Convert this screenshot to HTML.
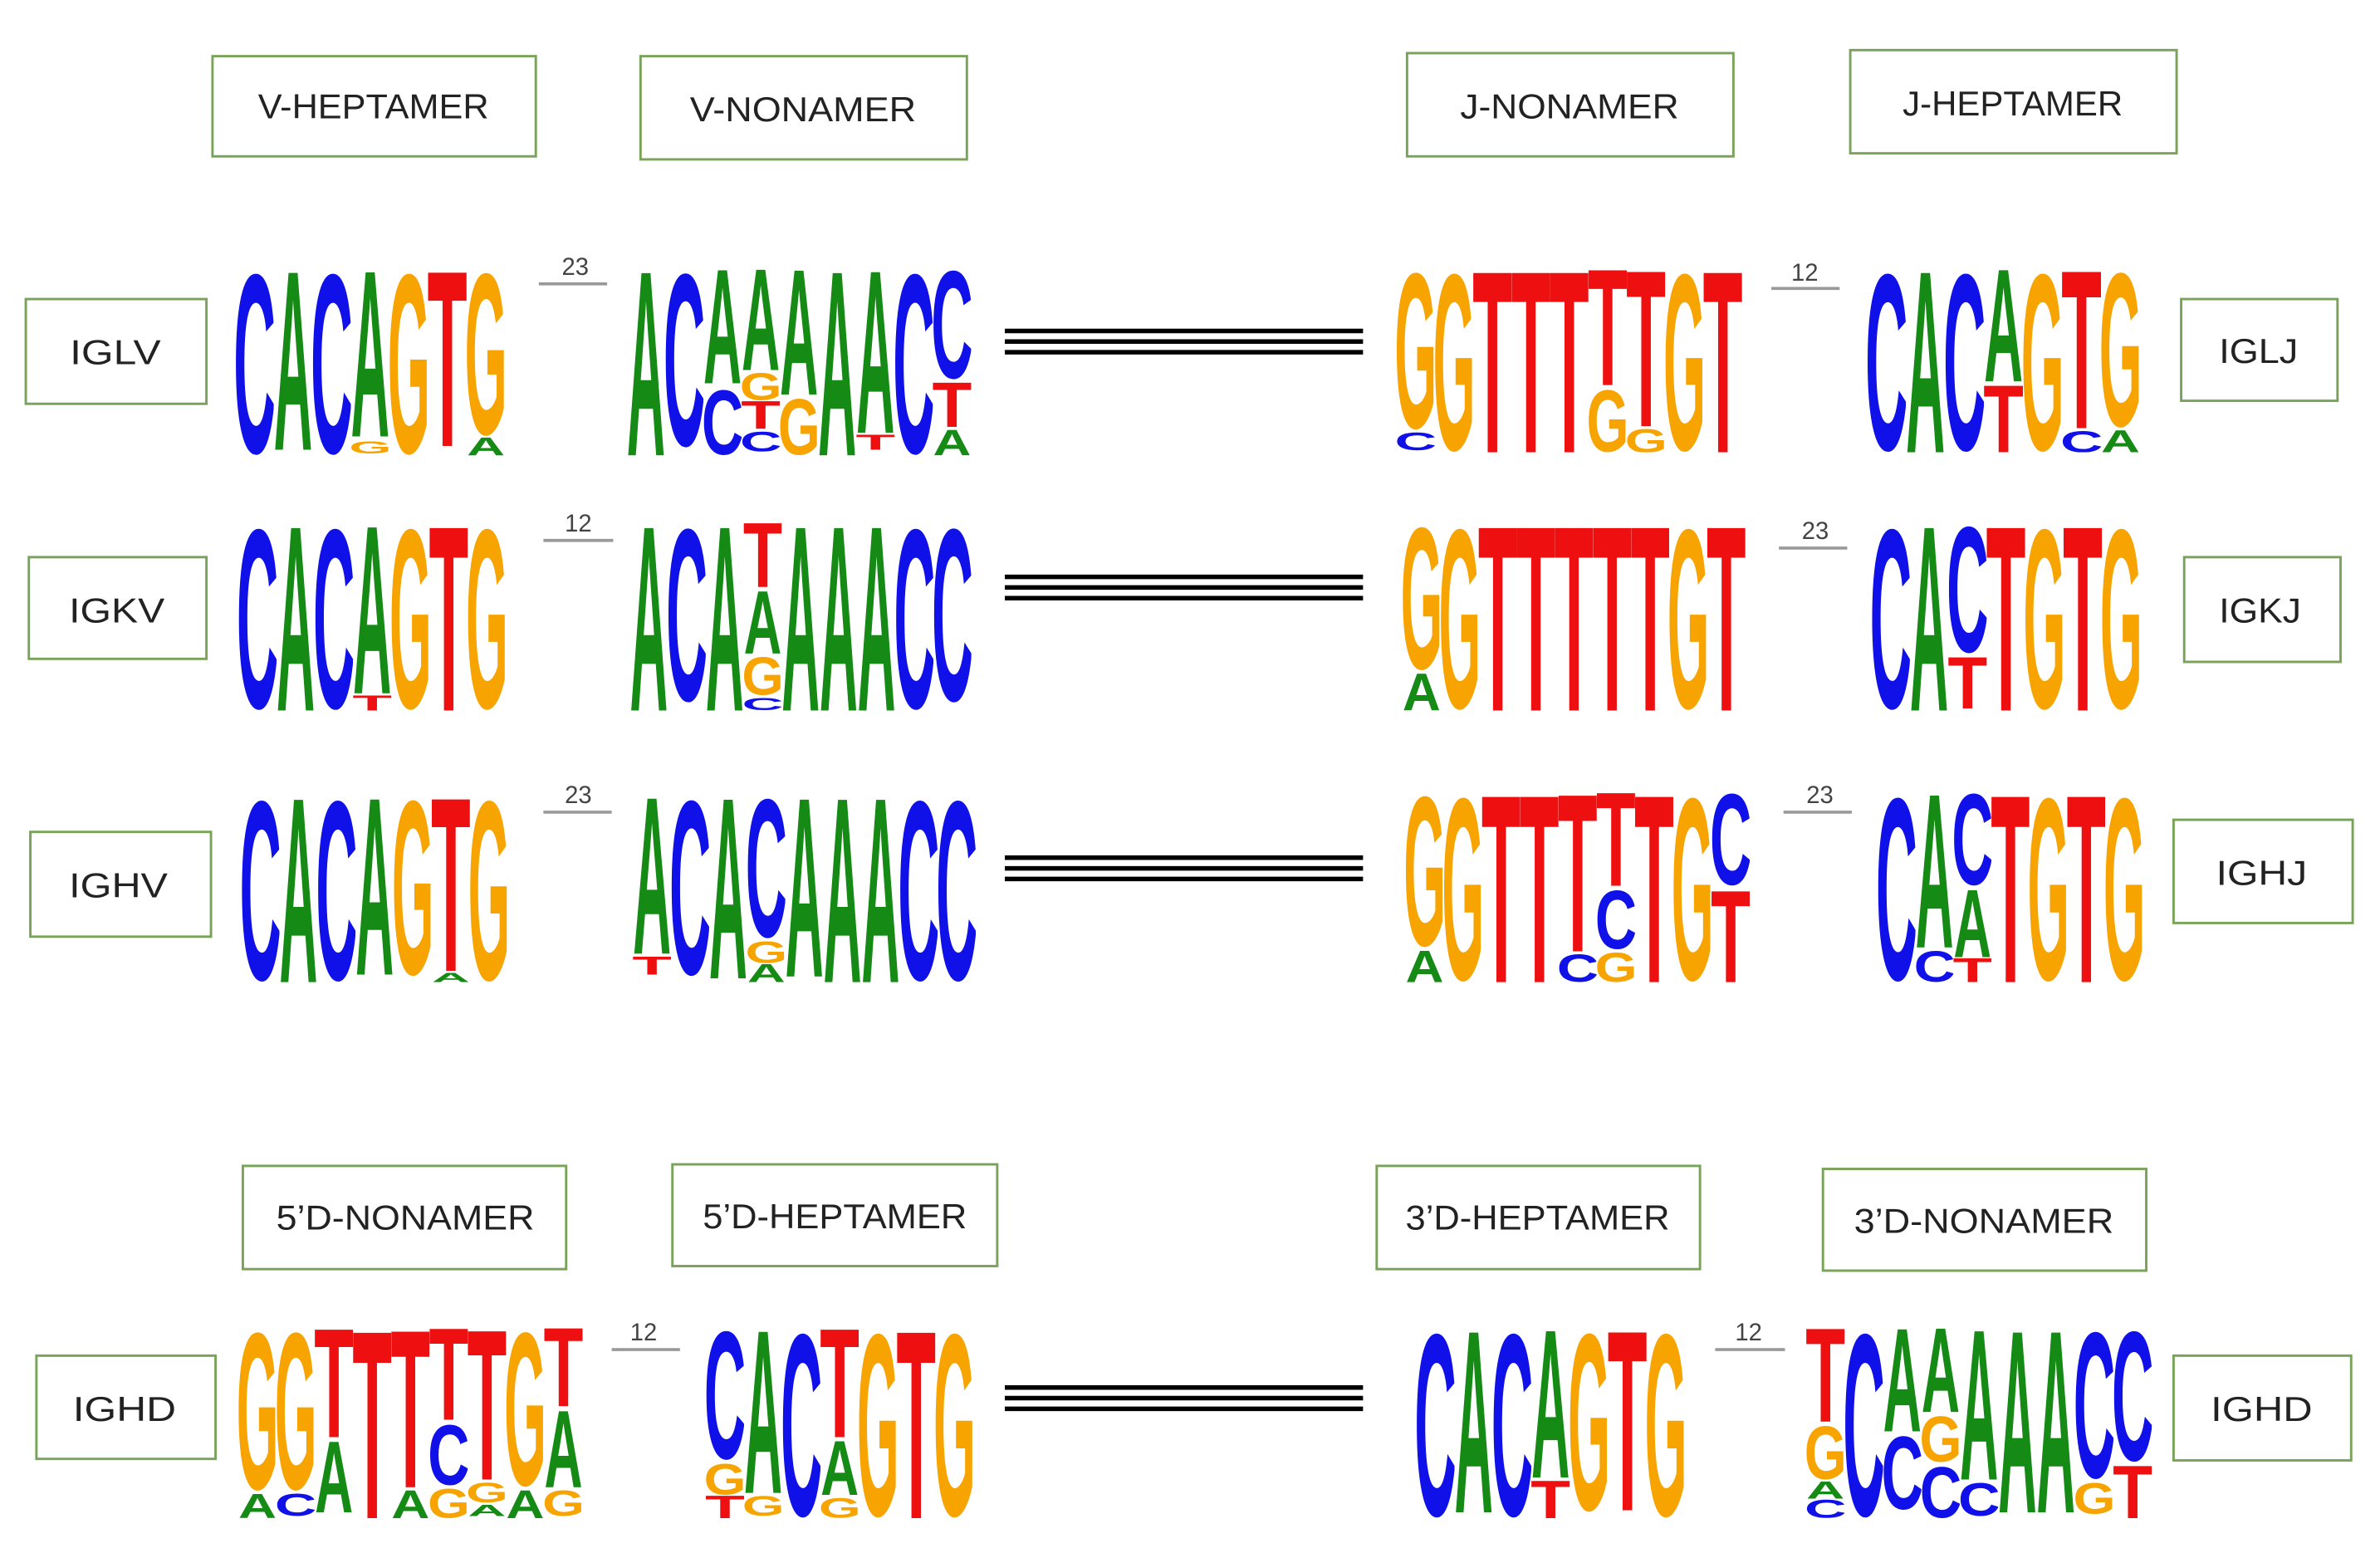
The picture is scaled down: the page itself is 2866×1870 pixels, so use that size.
<!DOCTYPE html>
<html><head><meta charset="utf-8"><style>
html,body{margin:0;padding:0;background:#fff;}
svg{display:block}
.a,.c,.g,.t{font-family:"Liberation Sans",sans-serif;font-weight:bold;font-size:100px}
.a{fill:#158a15}.c{fill:#1010e8}.g{fill:#f7a400}.t{fill:#ee1010}
.lb{font-family:"Liberation Sans",sans-serif;font-size:23px;fill:#222;text-anchor:middle}
.nm{font-family:"Liberation Sans",sans-serif;font-size:16px;fill:#444;text-anchor:middle}
.bx{fill:#fff;stroke:#7aa35a;stroke-width:1.6}
</style></head><body>
<svg width="2866" height="1870" viewBox="0 0 1568 1023" preserveAspectRatio="none">
<rect width="1568" height="1023" fill="#fff"/>
<!-- header boxes -->
<rect class="bx" x="140" y="37" width="213" height="66"/><text class="lb" x="246" y="78" textLength="152" lengthAdjust="spacingAndGlyphs">V-HEPTAMER</text>
<rect class="bx" x="422" y="37" width="215" height="68"/><text class="lb" x="529" y="80" textLength="149" lengthAdjust="spacingAndGlyphs">V-NONAMER</text>
<rect class="bx" x="927" y="35" width="215" height="68"/><text class="lb" x="1034" y="78" textLength="144" lengthAdjust="spacingAndGlyphs">J-NONAMER</text>
<rect class="bx" x="1219" y="33" width="215" height="68"/><text class="lb" x="1326" y="76" textLength="145" lengthAdjust="spacingAndGlyphs">J-HEPTAMER</text>
<rect class="bx" x="160" y="768" width="213" height="68"/><text class="lb" x="267" y="810" textLength="170" lengthAdjust="spacingAndGlyphs">5’D-NONAMER</text>
<rect class="bx" x="443" y="767" width="214" height="67"/><text class="lb" x="550" y="809" textLength="174" lengthAdjust="spacingAndGlyphs">5’D-HEPTAMER</text>
<rect class="bx" x="907" y="768" width="213" height="68"/><text class="lb" x="1013" y="810" textLength="174" lengthAdjust="spacingAndGlyphs">3’D-HEPTAMER</text>
<rect class="bx" x="1201" y="770" width="213" height="67"/><text class="lb" x="1307" y="812" textLength="171" lengthAdjust="spacingAndGlyphs">3’D-NONAMER</text>
<!-- side labels -->
<rect class="bx" x="17" y="197" width="119" height="69"/><text class="lb" x="76" y="240" textLength="60" lengthAdjust="spacingAndGlyphs">IGLV</text>
<rect class="bx" x="19" y="367" width="117" height="67"/><text class="lb" x="77" y="410" textLength="63" lengthAdjust="spacingAndGlyphs">IGKV</text>
<rect class="bx" x="20" y="548" width="119" height="69"/><text class="lb" x="78" y="591" textLength="65" lengthAdjust="spacingAndGlyphs">IGHV</text>
<rect class="bx" x="24" y="893" width="118" height="68"/><text class="lb" x="82" y="936" textLength="68" lengthAdjust="spacingAndGlyphs">IGHD</text>
<rect class="bx" x="1437" y="197" width="103" height="67"/><text class="lb" x="1488" y="239" textLength="52" lengthAdjust="spacingAndGlyphs">IGLJ</text>
<rect class="bx" x="1439" y="367" width="103" height="69"/><text class="lb" x="1489" y="410" textLength="54" lengthAdjust="spacingAndGlyphs">IGKJ</text>
<rect class="bx" x="1432" y="540" width="118" height="68"/><text class="lb" x="1490" y="583" textLength="60" lengthAdjust="spacingAndGlyphs">IGHJ</text>
<rect class="bx" x="1432" y="893" width="117" height="69"/><text class="lb" x="1490" y="936" textLength="67" lengthAdjust="spacingAndGlyphs">IGHD</text>
<!-- spacers -->
<g stroke="#999" stroke-width="2">
<line x1="355" y1="187" x2="400" y2="187"/><line x1="1167" y1="190" x2="1212" y2="190"/>
<line x1="358" y1="356" x2="404" y2="356"/><line x1="1172" y1="361" x2="1217" y2="361"/>
<line x1="358" y1="535" x2="403" y2="535"/><line x1="1175" y1="535" x2="1220" y2="535"/>
<line x1="403" y1="889" x2="448" y2="889"/><line x1="1130" y1="889" x2="1176" y2="889"/>
</g>
<text class="nm" x="379" y="181">23</text><text class="nm" x="1189" y="185">12</text>
<text class="nm" x="381" y="350">12</text><text class="nm" x="1196" y="355">23</text>
<text class="nm" x="381" y="529">23</text><text class="nm" x="1199" y="529">23</text>
<text class="nm" x="424" y="883">12</text><text class="nm" x="1152" y="883">12</text>
<g stroke="#000" stroke-width="3">
<line x1="662" y1="218" x2="898" y2="218"/><line x1="662" y1="225" x2="898" y2="225"/><line x1="662" y1="232" x2="898" y2="232"/>
<line x1="662" y1="380" x2="898" y2="380"/><line x1="662" y1="387" x2="898" y2="387"/><line x1="662" y1="394" x2="898" y2="394"/>
<line x1="662" y1="565" x2="898" y2="565"/><line x1="662" y1="572" x2="898" y2="572"/><line x1="662" y1="579" x2="898" y2="579"/>
<line x1="662" y1="914" x2="898" y2="914"/><line x1="662" y1="921" x2="898" y2="921"/><line x1="662" y1="928" x2="898" y2="928"/>
</g>

<!-- ROW 1 L1 CACAGTG -->
<svg x="155" y="175" width="25.4" height="125" viewBox="0 0 100 100" preserveAspectRatio="none"><svg y="0" width="100" height="100" viewBox="3 -73 66 74.2" preserveAspectRatio="none"><text class="c">C</text></svg></svg>
<svg x="180.4" y="175" width="25.4" height="125" viewBox="0 0 100 100" preserveAspectRatio="none"><svg y="0" width="100" height="97" viewBox="0 -71.6 72.2 71.6" preserveAspectRatio="none"><text class="a">A</text></svg></svg>
<svg x="205.8" y="175" width="25.4" height="125" viewBox="0 0 100 100" preserveAspectRatio="none"><svg y="0" width="100" height="100" viewBox="3 -73 66 74.2" preserveAspectRatio="none"><text class="c">C</text></svg></svg>
<svg x="231.2" y="175" width="25.4" height="125" viewBox="0 0 100 100" preserveAspectRatio="none"><svg y="0" width="100" height="90" viewBox="0 -71.6 72.2 71.6" preserveAspectRatio="none"><text class="a">A</text></svg><svg y="92" width="100" height="7" viewBox="3.5 -73 70.5 74.2" preserveAspectRatio="none"><text class="g">G</text></svg></svg>
<svg x="256.6" y="175" width="25.4" height="125" viewBox="0 0 100 100" preserveAspectRatio="none"><svg y="0" width="100" height="100" viewBox="3.5 -73 70.5 74.2" preserveAspectRatio="none"><text class="g">G</text></svg></svg>
<svg x="282" y="175" width="25.4" height="125" viewBox="0 0 100 100" preserveAspectRatio="none"><svg y="0" width="100" height="95" viewBox="1.5 -71.6 58 71.6" preserveAspectRatio="none"><text class="t">T</text></svg></svg>
<svg x="307.4" y="175" width="25.4" height="125" viewBox="0 0 100 100" preserveAspectRatio="none"><svg y="0" width="100" height="90" viewBox="3.5 -73 70.5 74.2" preserveAspectRatio="none"><text class="g">G</text></svg><svg y="90" width="100" height="10" viewBox="0 -71.6 72.2 71.6" preserveAspectRatio="none"><text class="a">A</text></svg></svg>

<!-- ROW 1 L2 ACAAAAACC -->
<svg x="413" y="175" width="25.2" height="125" viewBox="0 0 100 100" preserveAspectRatio="none"><svg y="0" width="100" height="100" viewBox="0 -71.6 72.2 71.6" preserveAspectRatio="none"><text class="a">A</text></svg></svg>
<svg x="438.2" y="175" width="25.2" height="125" viewBox="0 0 100 100" preserveAspectRatio="none"><svg y="0" width="100" height="96" viewBox="3 -73 66 74.2" preserveAspectRatio="none"><text class="c">C</text></svg></svg>
<svg x="463.4" y="175" width="25.2" height="125" viewBox="0 0 100 100" preserveAspectRatio="none"><svg y="0" width="100" height="62" viewBox="0 -71.6 72.2 71.6" preserveAspectRatio="none"><text class="a">A</text></svg><svg y="64" width="100" height="36" viewBox="3 -73 66 74.2" preserveAspectRatio="none"><text class="c">C</text></svg></svg>
<svg x="488.6" y="175" width="25.2" height="125" viewBox="0 0 100 100" preserveAspectRatio="none"><svg y="0" width="100" height="55" viewBox="0 -71.6 72.2 71.6" preserveAspectRatio="none"><text class="a">A</text></svg><svg y="56" width="100" height="15" viewBox="3.5 -73 70.5 74.2" preserveAspectRatio="none"><text class="g">G</text></svg><svg y="71" width="100" height="15" viewBox="1.5 -71.6 58 71.6" preserveAspectRatio="none"><text class="t">T</text></svg><svg y="87" width="100" height="11" viewBox="3 -73 66 74.2" preserveAspectRatio="none"><text class="c">C</text></svg></svg>
<svg x="513.8" y="175" width="25.2" height="125" viewBox="0 0 100 100" preserveAspectRatio="none"><svg y="0" width="100" height="68" viewBox="0 -71.6 72.2 71.6" preserveAspectRatio="none"><text class="a">A</text></svg><svg y="69" width="100" height="31" viewBox="3.5 -73 70.5 74.2" preserveAspectRatio="none"><text class="g">G</text></svg></svg>
<svg x="539" y="175" width="25.2" height="125" viewBox="0 0 100 100" preserveAspectRatio="none"><svg y="0" width="100" height="100" viewBox="0 -71.6 72.2 71.6" preserveAspectRatio="none"><text class="a">A</text></svg></svg>
<svg x="564.2" y="175" width="25.2" height="125" viewBox="0 0 100 100" preserveAspectRatio="none"><svg y="0" width="100" height="88" viewBox="0 -71.6 72.2 71.6" preserveAspectRatio="none"><text class="a">A</text></svg><svg y="89" width="100" height="8" viewBox="1.5 -71.6 58 71.6" preserveAspectRatio="none"><text class="t">T</text></svg></svg>
<svg x="589.4" y="175" width="25.2" height="125" viewBox="0 0 100 100" preserveAspectRatio="none"><svg y="0" width="100" height="100" viewBox="3 -73 66 74.2" preserveAspectRatio="none"><text class="c">C</text></svg></svg>
<svg x="614.6" y="175" width="25.2" height="125" viewBox="0 0 100 100" preserveAspectRatio="none"><svg y="0" width="100" height="60" viewBox="3 -73 66 74.2" preserveAspectRatio="none"><text class="c">C</text></svg><svg y="61" width="100" height="24" viewBox="1.5 -71.6 58 71.6" preserveAspectRatio="none"><text class="t">T</text></svg><svg y="86" width="100" height="14" viewBox="0 -71.6 72.2 71.6" preserveAspectRatio="none"><text class="a">A</text></svg></svg>

<!-- ROW 1 L3 GGTTTTTGT -->
<svg x="920" y="175" width="25.3" height="123" viewBox="0 0 100 100" preserveAspectRatio="none"><svg y="0" width="100" height="88" viewBox="3.5 -73 70.5 74.2" preserveAspectRatio="none"><text class="g">G</text></svg><svg y="89" width="100" height="10" viewBox="3 -73 66 74.2" preserveAspectRatio="none"><text class="c">C</text></svg></svg>
<svg x="945.3" y="175" width="25.3" height="123" viewBox="0 0 100 100" preserveAspectRatio="none"><svg y="0" width="100" height="100" viewBox="3.5 -73 70.5 74.2" preserveAspectRatio="none"><text class="g">G</text></svg></svg>
<svg x="970.6" y="175" width="25.3" height="123" viewBox="0 0 100 100" preserveAspectRatio="none"><svg y="0" width="100" height="100" viewBox="1.5 -71.6 58 71.6" preserveAspectRatio="none"><text class="t">T</text></svg></svg>
<svg x="995.9" y="175" width="25.3" height="123" viewBox="0 0 100 100" preserveAspectRatio="none"><svg y="0" width="100" height="100" viewBox="1.5 -71.6 58 71.6" preserveAspectRatio="none"><text class="t">T</text></svg></svg>
<svg x="1021.2" y="175" width="25.3" height="123" viewBox="0 0 100 100" preserveAspectRatio="none"><svg y="0" width="100" height="100" viewBox="1.5 -71.6 58 71.6" preserveAspectRatio="none"><text class="t">T</text></svg></svg>
<svg x="1046.5" y="175" width="25.3" height="123" viewBox="0 0 100 100" preserveAspectRatio="none"><svg y="0" width="100" height="64" viewBox="1.5 -71.6 58 71.6" preserveAspectRatio="none"><text class="t">T</text></svg><svg y="65" width="100" height="35" viewBox="3.5 -73 70.5 74.2" preserveAspectRatio="none"><text class="g">G</text></svg></svg>
<svg x="1071.8" y="175" width="25.3" height="123" viewBox="0 0 100 100" preserveAspectRatio="none"><svg y="0" width="100" height="86" viewBox="1.5 -71.6 58 71.6" preserveAspectRatio="none"><text class="t">T</text></svg><svg y="87" width="100" height="13" viewBox="3.5 -73 70.5 74.2" preserveAspectRatio="none"><text class="g">G</text></svg></svg>
<svg x="1097.1" y="175" width="25.3" height="123" viewBox="0 0 100 100" preserveAspectRatio="none"><svg y="0" width="100" height="100" viewBox="3.5 -73 70.5 74.2" preserveAspectRatio="none"><text class="g">G</text></svg></svg>
<svg x="1122.4" y="175" width="25.3" height="123" viewBox="0 0 100 100" preserveAspectRatio="none"><svg y="0" width="100" height="100" viewBox="1.5 -71.6 58 71.6" preserveAspectRatio="none"><text class="t">T</text></svg></svg>

<!-- ROW 1 L4 CACAGTG -->
<svg x="1230" y="175" width="25.7" height="123" viewBox="0 0 100 100" preserveAspectRatio="none"><svg y="0" width="100" height="100" viewBox="3 -73 66 74.2" preserveAspectRatio="none"><text class="c">C</text></svg></svg>
<svg x="1255.7" y="175" width="25.7" height="123" viewBox="0 0 100 100" preserveAspectRatio="none"><svg y="0" width="100" height="100" viewBox="0 -71.6 72.2 71.6" preserveAspectRatio="none"><text class="a">A</text></svg></svg>
<svg x="1281.4" y="175" width="25.7" height="123" viewBox="0 0 100 100" preserveAspectRatio="none"><svg y="0" width="100" height="100" viewBox="3 -73 66 74.2" preserveAspectRatio="none"><text class="c">C</text></svg></svg>
<svg x="1307.1" y="175" width="25.7" height="123" viewBox="0 0 100 100" preserveAspectRatio="none"><svg y="0" width="100" height="62" viewBox="0 -71.6 72.2 71.6" preserveAspectRatio="none"><text class="a">A</text></svg><svg y="63" width="100" height="37" viewBox="1.5 -71.6 58 71.6" preserveAspectRatio="none"><text class="t">T</text></svg></svg>
<svg x="1332.8" y="175" width="25.7" height="123" viewBox="0 0 100 100" preserveAspectRatio="none"><svg y="0" width="100" height="100" viewBox="3.5 -73 70.5 74.2" preserveAspectRatio="none"><text class="g">G</text></svg></svg>
<svg x="1358.5" y="175" width="25.7" height="123" viewBox="0 0 100 100" preserveAspectRatio="none"><svg y="0" width="100" height="87" viewBox="1.5 -71.6 58 71.6" preserveAspectRatio="none"><text class="t">T</text></svg><svg y="88" width="100" height="12" viewBox="3 -73 66 74.2" preserveAspectRatio="none"><text class="c">C</text></svg></svg>
<svg x="1384.2" y="175" width="25.7" height="123" viewBox="0 0 100 100" preserveAspectRatio="none"><svg y="0" width="100" height="87" viewBox="3.5 -73 70.5 74.2" preserveAspectRatio="none"><text class="g">G</text></svg><svg y="88" width="100" height="12" viewBox="0 -71.6 72.2 71.6" preserveAspectRatio="none"><text class="a">A</text></svg></svg>

<!-- ROW 2 L1 CACAGTG -->
<svg x="157" y="343" width="25.2" height="125" viewBox="0 0 100 100" preserveAspectRatio="none"><svg y="0" width="100" height="100" viewBox="3 -73 66 74.2" preserveAspectRatio="none"><text class="c">C</text></svg></svg>
<svg x="182.2" y="343" width="25.2" height="125" viewBox="0 0 100 100" preserveAspectRatio="none"><svg y="0" width="100" height="100" viewBox="0 -71.6 72.2 71.6" preserveAspectRatio="none"><text class="a">A</text></svg></svg>
<svg x="207.4" y="343" width="25.2" height="125" viewBox="0 0 100 100" preserveAspectRatio="none"><svg y="0" width="100" height="100" viewBox="3 -73 66 74.2" preserveAspectRatio="none"><text class="c">C</text></svg></svg>
<svg x="232.6" y="343" width="25.2" height="125" viewBox="0 0 100 100" preserveAspectRatio="none"><svg y="0" width="100" height="91" viewBox="0 -71.6 72.2 71.6" preserveAspectRatio="none"><text class="a">A</text></svg><svg y="92" width="100" height="8" viewBox="1.5 -71.6 58 71.6" preserveAspectRatio="none"><text class="t">T</text></svg></svg>
<svg x="257.8" y="343" width="25.2" height="125" viewBox="0 0 100 100" preserveAspectRatio="none"><svg y="0" width="100" height="100" viewBox="3.5 -73 70.5 74.2" preserveAspectRatio="none"><text class="g">G</text></svg></svg>
<svg x="283" y="343" width="25.2" height="125" viewBox="0 0 100 100" preserveAspectRatio="none"><svg y="0" width="100" height="100" viewBox="1.5 -71.6 58 71.6" preserveAspectRatio="none"><text class="t">T</text></svg></svg>
<svg x="308.2" y="343" width="25.2" height="125" viewBox="0 0 100 100" preserveAspectRatio="none"><svg y="0" width="100" height="100" viewBox="3.5 -73 70.5 74.2" preserveAspectRatio="none"><text class="g">G</text></svg></svg>

<!-- ROW 2 L2 ACATAAACC -->
<svg x="415" y="343" width="25" height="125" viewBox="0 0 100 100" preserveAspectRatio="none"><svg y="0" width="100" height="100" viewBox="0 -71.6 72.2 71.6" preserveAspectRatio="none"><text class="a">A</text></svg></svg>
<svg x="440" y="343" width="25" height="125" viewBox="0 0 100 100" preserveAspectRatio="none"><svg y="0" width="100" height="96" viewBox="3 -73 66 74.2" preserveAspectRatio="none"><text class="c">C</text></svg></svg>
<svg x="465" y="343" width="25" height="125" viewBox="0 0 100 100" preserveAspectRatio="none"><svg y="0" width="100" height="100" viewBox="0 -71.6 72.2 71.6" preserveAspectRatio="none"><text class="a">A</text></svg></svg>
<svg x="490" y="343" width="25" height="125" viewBox="0 0 100 100" preserveAspectRatio="none"><svg y="0" width="100" height="35" viewBox="1.5 -71.6 58 71.6" preserveAspectRatio="none"><text class="t">T</text></svg><svg y="36" width="100" height="34" viewBox="0 -71.6 72.2 71.6" preserveAspectRatio="none"><text class="a">A</text></svg><svg y="71" width="100" height="21" viewBox="3.5 -73 70.5 74.2" preserveAspectRatio="none"><text class="g">G</text></svg><svg y="93" width="100" height="7" viewBox="3 -73 66 74.2" preserveAspectRatio="none"><text class="c">C</text></svg></svg>
<svg x="515" y="343" width="25" height="125" viewBox="0 0 100 100" preserveAspectRatio="none"><svg y="0" width="100" height="100" viewBox="0 -71.6 72.2 71.6" preserveAspectRatio="none"><text class="a">A</text></svg></svg>
<svg x="540" y="343" width="25" height="125" viewBox="0 0 100 100" preserveAspectRatio="none"><svg y="0" width="100" height="100" viewBox="0 -71.6 72.2 71.6" preserveAspectRatio="none"><text class="a">A</text></svg></svg>
<svg x="565" y="343" width="25" height="125" viewBox="0 0 100 100" preserveAspectRatio="none"><svg y="0" width="100" height="100" viewBox="0 -71.6 72.2 71.6" preserveAspectRatio="none"><text class="a">A</text></svg></svg>
<svg x="590" y="343" width="25" height="125" viewBox="0 0 100 100" preserveAspectRatio="none"><svg y="0" width="100" height="100" viewBox="3 -73 66 74.2" preserveAspectRatio="none"><text class="c">C</text></svg></svg>
<svg x="615" y="343" width="25" height="125" viewBox="0 0 100 100" preserveAspectRatio="none"><svg y="0" width="100" height="96" viewBox="3 -73 66 74.2" preserveAspectRatio="none"><text class="c">C</text></svg></svg>

<!-- ROW 2 L3 GGTTTTTGT -->
<svg x="924" y="343" width="25.1" height="125" viewBox="0 0 100 100" preserveAspectRatio="none"><svg y="0" width="100" height="79" viewBox="3.5 -73 70.5 74.2" preserveAspectRatio="none"><text class="g">G</text></svg><svg y="80" width="100" height="20" viewBox="0 -71.6 72.2 71.6" preserveAspectRatio="none"><text class="a">A</text></svg></svg>
<svg x="949.1" y="343" width="25.1" height="125" viewBox="0 0 100 100" preserveAspectRatio="none"><svg y="0" width="100" height="100" viewBox="3.5 -73 70.5 74.2" preserveAspectRatio="none"><text class="g">G</text></svg></svg>
<svg x="974.2" y="343" width="25.1" height="125" viewBox="0 0 100 100" preserveAspectRatio="none"><svg y="0" width="100" height="100" viewBox="1.5 -71.6 58 71.6" preserveAspectRatio="none"><text class="t">T</text></svg></svg>
<svg x="999.3" y="343" width="25.1" height="125" viewBox="0 0 100 100" preserveAspectRatio="none"><svg y="0" width="100" height="100" viewBox="1.5 -71.6 58 71.6" preserveAspectRatio="none"><text class="t">T</text></svg></svg>
<svg x="1024.4" y="343" width="25.1" height="125" viewBox="0 0 100 100" preserveAspectRatio="none"><svg y="0" width="100" height="100" viewBox="1.5 -71.6 58 71.6" preserveAspectRatio="none"><text class="t">T</text></svg></svg>
<svg x="1049.5" y="343" width="25.1" height="125" viewBox="0 0 100 100" preserveAspectRatio="none"><svg y="0" width="100" height="100" viewBox="1.5 -71.6 58 71.6" preserveAspectRatio="none"><text class="t">T</text></svg></svg>
<svg x="1074.6" y="343" width="25.1" height="125" viewBox="0 0 100 100" preserveAspectRatio="none"><svg y="0" width="100" height="100" viewBox="1.5 -71.6 58 71.6" preserveAspectRatio="none"><text class="t">T</text></svg></svg>
<svg x="1099.7" y="343" width="25.1" height="125" viewBox="0 0 100 100" preserveAspectRatio="none"><svg y="0" width="100" height="100" viewBox="3.5 -73 70.5 74.2" preserveAspectRatio="none"><text class="g">G</text></svg></svg>
<svg x="1124.8" y="343" width="25.1" height="125" viewBox="0 0 100 100" preserveAspectRatio="none"><svg y="0" width="100" height="100" viewBox="1.5 -71.6 58 71.6" preserveAspectRatio="none"><text class="t">T</text></svg></svg>

<!-- ROW 2 L4 CACTGTG -->
<svg x="1233" y="343" width="25.3" height="125" viewBox="0 0 100 100" preserveAspectRatio="none"><svg y="0" width="100" height="100" viewBox="3 -73 66 74.2" preserveAspectRatio="none"><text class="c">C</text></svg></svg>
<svg x="1258.3" y="343" width="25.3" height="125" viewBox="0 0 100 100" preserveAspectRatio="none"><svg y="0" width="100" height="100" viewBox="0 -71.6 72.2 71.6" preserveAspectRatio="none"><text class="a">A</text></svg></svg>
<svg x="1283.6" y="343" width="25.3" height="125" viewBox="0 0 100 100" preserveAspectRatio="none"><svg y="0" width="100" height="70" viewBox="3 -73 66 74.2" preserveAspectRatio="none"><text class="c">C</text></svg><svg y="71" width="100" height="28" viewBox="1.5 -71.6 58 71.6" preserveAspectRatio="none"><text class="t">T</text></svg></svg>
<svg x="1308.9" y="343" width="25.3" height="125" viewBox="0 0 100 100" preserveAspectRatio="none"><svg y="0" width="100" height="100" viewBox="1.5 -71.6 58 71.6" preserveAspectRatio="none"><text class="t">T</text></svg></svg>
<svg x="1334.2" y="343" width="25.3" height="125" viewBox="0 0 100 100" preserveAspectRatio="none"><svg y="0" width="100" height="100" viewBox="3.5 -73 70.5 74.2" preserveAspectRatio="none"><text class="g">G</text></svg></svg>
<svg x="1359.5" y="343" width="25.3" height="125" viewBox="0 0 100 100" preserveAspectRatio="none"><svg y="0" width="100" height="100" viewBox="1.5 -71.6 58 71.6" preserveAspectRatio="none"><text class="t">T</text></svg></svg>
<svg x="1384.8" y="343" width="25.3" height="125" viewBox="0 0 100 100" preserveAspectRatio="none"><svg y="0" width="100" height="100" viewBox="3.5 -73 70.5 74.2" preserveAspectRatio="none"><text class="g">G</text></svg></svg>

<!-- ROW 3 L1 CACAGTG -->
<svg x="159" y="522" width="25.1" height="125" viewBox="0 0 100 100" preserveAspectRatio="none"><svg y="0" width="100" height="100" viewBox="3 -73 66 74.2" preserveAspectRatio="none"><text class="c">C</text></svg></svg>
<svg x="184.1" y="522" width="25.1" height="125" viewBox="0 0 100 100" preserveAspectRatio="none"><svg y="0" width="100" height="100" viewBox="0 -71.6 72.2 71.6" preserveAspectRatio="none"><text class="a">A</text></svg></svg>
<svg x="209.2" y="522" width="25.1" height="125" viewBox="0 0 100 100" preserveAspectRatio="none"><svg y="0" width="100" height="100" viewBox="3 -73 66 74.2" preserveAspectRatio="none"><text class="c">C</text></svg></svg>
<svg x="234.3" y="522" width="25.1" height="125" viewBox="0 0 100 100" preserveAspectRatio="none"><svg y="0" width="100" height="96" viewBox="0 -71.6 72.2 71.6" preserveAspectRatio="none"><text class="a">A</text></svg></svg>
<svg x="259.4" y="522" width="25.1" height="125" viewBox="0 0 100 100" preserveAspectRatio="none"><svg y="0" width="100" height="97" viewBox="3.5 -73 70.5 74.2" preserveAspectRatio="none"><text class="g">G</text></svg></svg>
<svg x="284.5" y="522" width="25.1" height="125" viewBox="0 0 100 100" preserveAspectRatio="none"><svg y="0" width="100" height="94" viewBox="1.5 -71.6 58 71.6" preserveAspectRatio="none"><text class="t">T</text></svg><svg y="95" width="100" height="5" viewBox="0 -71.6 72.2 71.6" preserveAspectRatio="none"><text class="a">A</text></svg></svg>
<svg x="309.6" y="522" width="25.1" height="125" viewBox="0 0 100 100" preserveAspectRatio="none"><svg y="0" width="100" height="100" viewBox="3.5 -73 70.5 74.2" preserveAspectRatio="none"><text class="g">G</text></svg></svg>

<!-- ROW 3 L2 ACACAAACC -->
<svg x="417" y="522" width="25.1" height="125" viewBox="0 0 100 100" preserveAspectRatio="none"><svg y="0" width="100" height="85" viewBox="0 -71.6 72.2 71.6" preserveAspectRatio="none"><text class="a">A</text></svg><svg y="86" width="100" height="10" viewBox="1.5 -71.6 58 71.6" preserveAspectRatio="none"><text class="t">T</text></svg></svg>
<svg x="442.1" y="522" width="25.1" height="125" viewBox="0 0 100 100" preserveAspectRatio="none"><svg y="0" width="100" height="97" viewBox="3 -73 66 74.2" preserveAspectRatio="none"><text class="c">C</text></svg></svg>
<svg x="467.2" y="522" width="25.1" height="125" viewBox="0 0 100 100" preserveAspectRatio="none"><svg y="0" width="100" height="98" viewBox="0 -71.6 72.2 71.6" preserveAspectRatio="none"><text class="a">A</text></svg></svg>
<svg x="492.3" y="522" width="25.1" height="125" viewBox="0 0 100 100" preserveAspectRatio="none"><svg y="0" width="100" height="77" viewBox="3 -73 66 74.2" preserveAspectRatio="none"><text class="c">C</text></svg><svg y="78" width="100" height="12" viewBox="3.5 -73 70.5 74.2" preserveAspectRatio="none"><text class="g">G</text></svg><svg y="90" width="100" height="10" viewBox="0 -71.6 72.2 71.6" preserveAspectRatio="none"><text class="a">A</text></svg></svg>
<svg x="517.4" y="522" width="25.1" height="125" viewBox="0 0 100 100" preserveAspectRatio="none"><svg y="0" width="100" height="97" viewBox="0 -71.6 72.2 71.6" preserveAspectRatio="none"><text class="a">A</text></svg></svg>
<svg x="542.5" y="522" width="25.1" height="125" viewBox="0 0 100 100" preserveAspectRatio="none"><svg y="0" width="100" height="100" viewBox="0 -71.6 72.2 71.6" preserveAspectRatio="none"><text class="a">A</text></svg></svg>
<svg x="567.6" y="522" width="25.1" height="125" viewBox="0 0 100 100" preserveAspectRatio="none"><svg y="0" width="100" height="100" viewBox="0 -71.6 72.2 71.6" preserveAspectRatio="none"><text class="a">A</text></svg></svg>
<svg x="592.7" y="522" width="25.1" height="125" viewBox="0 0 100 100" preserveAspectRatio="none"><svg y="0" width="100" height="100" viewBox="3 -73 66 74.2" preserveAspectRatio="none"><text class="c">C</text></svg></svg>
<svg x="617.8" y="522" width="25.1" height="125" viewBox="0 0 100 100" preserveAspectRatio="none"><svg y="0" width="100" height="100" viewBox="3 -73 66 74.2" preserveAspectRatio="none"><text class="c">C</text></svg></svg>

<!-- ROW 3 L3 GGTTTTTGC -->
<svg x="926" y="520" width="25.2" height="127" viewBox="0 0 100 100" preserveAspectRatio="none"><svg y="0" width="100" height="82" viewBox="3.5 -73 70.5 74.2" preserveAspectRatio="none"><text class="g">G</text></svg><svg y="83" width="100" height="17" viewBox="0 -71.6 72.2 71.6" preserveAspectRatio="none"><text class="a">A</text></svg></svg>
<svg x="951.2" y="520" width="25.2" height="127" viewBox="0 0 100 100" preserveAspectRatio="none"><svg y="0" width="100" height="100" viewBox="3.5 -73 70.5 74.2" preserveAspectRatio="none"><text class="g">G</text></svg></svg>
<svg x="976.4" y="520" width="25.2" height="127" viewBox="0 0 100 100" preserveAspectRatio="none"><svg y="0" width="100" height="100" viewBox="1.5 -71.6 58 71.6" preserveAspectRatio="none"><text class="t">T</text></svg></svg>
<svg x="1001.6" y="520" width="25.2" height="127" viewBox="0 0 100 100" preserveAspectRatio="none"><svg y="0" width="100" height="100" viewBox="1.5 -71.6 58 71.6" preserveAspectRatio="none"><text class="t">T</text></svg></svg>
<svg x="1026.8" y="520" width="25.2" height="127" viewBox="0 0 100 100" preserveAspectRatio="none"><svg y="0" width="100" height="84" viewBox="1.5 -71.6 58 71.6" preserveAspectRatio="none"><text class="t">T</text></svg><svg y="85" width="100" height="15" viewBox="3 -73 66 74.2" preserveAspectRatio="none"><text class="c">C</text></svg></svg>
<svg x="1052" y="520" width="25.2" height="127" viewBox="0 0 100 100" preserveAspectRatio="none"><svg y="0" width="100" height="50" viewBox="1.5 -71.6 58 71.6" preserveAspectRatio="none"><text class="t">T</text></svg><svg y="51" width="100" height="32" viewBox="3 -73 66 74.2" preserveAspectRatio="none"><text class="c">C</text></svg><svg y="84" width="100" height="16" viewBox="3.5 -73 70.5 74.2" preserveAspectRatio="none"><text class="g">G</text></svg></svg>
<svg x="1077.2" y="520" width="25.2" height="127" viewBox="0 0 100 100" preserveAspectRatio="none"><svg y="0" width="100" height="100" viewBox="1.5 -71.6 58 71.6" preserveAspectRatio="none"><text class="t">T</text></svg></svg>
<svg x="1102.4" y="520" width="25.2" height="127" viewBox="0 0 100 100" preserveAspectRatio="none"><svg y="0" width="100" height="100" viewBox="3.5 -73 70.5 74.2" preserveAspectRatio="none"><text class="g">G</text></svg></svg>
<svg x="1127.6" y="520" width="25.2" height="127" viewBox="0 0 100 100" preserveAspectRatio="none"><svg y="0" width="100" height="50" viewBox="3 -73 66 74.2" preserveAspectRatio="none"><text class="c">C</text></svg><svg y="51" width="100" height="49" viewBox="1.5 -71.6 58 71.6" preserveAspectRatio="none"><text class="t">T</text></svg></svg>

<!-- ROW 3 L4 CACTGTG -->
<svg x="1237" y="520" width="25" height="127" viewBox="0 0 100 100" preserveAspectRatio="none"><svg y="0" width="100" height="100" viewBox="3 -73 66 74.2" preserveAspectRatio="none"><text class="c">C</text></svg></svg>
<svg x="1262" y="520" width="25" height="127" viewBox="0 0 100 100" preserveAspectRatio="none"><svg y="0" width="100" height="82" viewBox="0 -71.6 72.2 71.6" preserveAspectRatio="none"><text class="a">A</text></svg><svg y="83" width="100" height="17" viewBox="3 -73 66 74.2" preserveAspectRatio="none"><text class="c">C</text></svg></svg>
<svg x="1287" y="520" width="25" height="127" viewBox="0 0 100 100" preserveAspectRatio="none"><svg y="0" width="100" height="50" viewBox="3 -73 66 74.2" preserveAspectRatio="none"><text class="c">C</text></svg><svg y="51" width="100" height="36" viewBox="0 -71.6 72.2 71.6" preserveAspectRatio="none"><text class="a">A</text></svg><svg y="87" width="100" height="13" viewBox="1.5 -71.6 58 71.6" preserveAspectRatio="none"><text class="t">T</text></svg></svg>
<svg x="1312" y="520" width="25" height="127" viewBox="0 0 100 100" preserveAspectRatio="none"><svg y="0" width="100" height="100" viewBox="1.5 -71.6 58 71.6" preserveAspectRatio="none"><text class="t">T</text></svg></svg>
<svg x="1337" y="520" width="25" height="127" viewBox="0 0 100 100" preserveAspectRatio="none"><svg y="0" width="100" height="100" viewBox="3.5 -73 70.5 74.2" preserveAspectRatio="none"><text class="g">G</text></svg></svg>
<svg x="1362" y="520" width="25" height="127" viewBox="0 0 100 100" preserveAspectRatio="none"><svg y="0" width="100" height="100" viewBox="1.5 -71.6 58 71.6" preserveAspectRatio="none"><text class="t">T</text></svg></svg>
<svg x="1387" y="520" width="25" height="127" viewBox="0 0 100 100" preserveAspectRatio="none"><svg y="0" width="100" height="100" viewBox="3.5 -73 70.5 74.2" preserveAspectRatio="none"><text class="g">G</text></svg></svg>

<!-- ROW 4 L1 GGTTTTTGT -->
<svg x="157" y="873" width="25.2" height="127" viewBox="0 0 100 100" preserveAspectRatio="none"><svg y="0" width="100" height="86" viewBox="3.5 -73 70.5 74.2" preserveAspectRatio="none"><text class="g">G</text></svg><svg y="87" width="100" height="13" viewBox="0 -71.6 72.2 71.6" preserveAspectRatio="none"><text class="a">A</text></svg></svg>
<svg x="182.2" y="873" width="25.2" height="127" viewBox="0 0 100 100" preserveAspectRatio="none"><svg y="0" width="100" height="86" viewBox="3.5 -73 70.5 74.2" preserveAspectRatio="none"><text class="g">G</text></svg><svg y="87" width="100" height="12" viewBox="3 -73 66 74.2" preserveAspectRatio="none"><text class="c">C</text></svg></svg>
<svg x="207.4" y="873" width="25.2" height="127" viewBox="0 0 100 100" preserveAspectRatio="none"><svg y="0" width="100" height="58" viewBox="1.5 -71.6 58 71.6" preserveAspectRatio="none"><text class="t">T</text></svg><svg y="59" width="100" height="38" viewBox="0 -71.6 72.2 71.6" preserveAspectRatio="none"><text class="a">A</text></svg></svg>
<svg x="232.6" y="873" width="25.2" height="127" viewBox="0 0 100 100" preserveAspectRatio="none"><svg y="0" width="100" height="100" viewBox="1.5 -71.6 58 71.6" preserveAspectRatio="none"><text class="t">T</text></svg></svg>
<svg x="257.8" y="873" width="25.2" height="127" viewBox="0 0 100 100" preserveAspectRatio="none"><svg y="0" width="100" height="84" viewBox="1.5 -71.6 58 71.6" preserveAspectRatio="none"><text class="t">T</text></svg><svg y="85" width="100" height="15" viewBox="0 -71.6 72.2 71.6" preserveAspectRatio="none"><text class="a">A</text></svg></svg>
<svg x="283" y="873" width="25.2" height="127" viewBox="0 0 100 100" preserveAspectRatio="none"><svg y="0" width="100" height="49" viewBox="1.5 -71.6 58 71.6" preserveAspectRatio="none"><text class="t">T</text></svg><svg y="50" width="100" height="33" viewBox="3 -73 66 74.2" preserveAspectRatio="none"><text class="c">C</text></svg><svg y="84" width="100" height="16" viewBox="3.5 -73 70.5 74.2" preserveAspectRatio="none"><text class="g">G</text></svg></svg>
<svg x="308.2" y="873" width="25.2" height="127" viewBox="0 0 100 100" preserveAspectRatio="none"><svg y="0" width="100" height="80" viewBox="1.5 -71.6 58 71.6" preserveAspectRatio="none"><text class="t">T</text></svg><svg y="81" width="100" height="11" viewBox="3.5 -73 70.5 74.2" preserveAspectRatio="none"><text class="g">G</text></svg><svg y="93" width="100" height="6" viewBox="0 -71.6 72.2 71.6" preserveAspectRatio="none"><text class="a">A</text></svg></svg>
<svg x="333.4" y="873" width="25.2" height="127" viewBox="0 0 100 100" preserveAspectRatio="none"><svg y="0" width="100" height="84" viewBox="3.5 -73 70.5 74.2" preserveAspectRatio="none"><text class="g">G</text></svg><svg y="85" width="100" height="15" viewBox="0 -71.6 72.2 71.6" preserveAspectRatio="none"><text class="a">A</text></svg></svg>
<svg x="358.6" y="873" width="25.2" height="127" viewBox="0 0 100 100" preserveAspectRatio="none"><svg y="0" width="100" height="42" viewBox="1.5 -71.6 58 71.6" preserveAspectRatio="none"><text class="t">T</text></svg><svg y="43" width="100" height="41" viewBox="0 -71.6 72.2 71.6" preserveAspectRatio="none"><text class="a">A</text></svg><svg y="85" width="100" height="14" viewBox="3.5 -73 70.5 74.2" preserveAspectRatio="none"><text class="g">G</text></svg></svg>

<!-- ROW 4 L2 CACTGTG -->
<svg x="465" y="873" width="25.2" height="127" viewBox="0 0 100 100" preserveAspectRatio="none"><svg y="0" width="100" height="70" viewBox="3 -73 66 74.2" preserveAspectRatio="none"><text class="c">C</text></svg><svg y="71" width="100" height="17" viewBox="3.5 -73 70.5 74.2" preserveAspectRatio="none"><text class="g">G</text></svg><svg y="88" width="100" height="12" viewBox="1.5 -71.6 58 71.6" preserveAspectRatio="none"><text class="t">T</text></svg></svg>
<svg x="490.2" y="873" width="25.2" height="127" viewBox="0 0 100 100" preserveAspectRatio="none"><svg y="0" width="100" height="87" viewBox="0 -71.6 72.2 71.6" preserveAspectRatio="none"><text class="a">A</text></svg><svg y="88" width="100" height="11" viewBox="3.5 -73 70.5 74.2" preserveAspectRatio="none"><text class="g">G</text></svg></svg>
<svg x="515.4" y="873" width="25.2" height="127" viewBox="0 0 100 100" preserveAspectRatio="none"><svg y="0" width="100" height="100" viewBox="3 -73 66 74.2" preserveAspectRatio="none"><text class="c">C</text></svg></svg>
<svg x="540.6" y="873" width="25.2" height="127" viewBox="0 0 100 100" preserveAspectRatio="none"><svg y="0" width="100" height="58" viewBox="1.5 -71.6 58 71.6" preserveAspectRatio="none"><text class="t">T</text></svg><svg y="59" width="100" height="29" viewBox="0 -71.6 72.2 71.6" preserveAspectRatio="none"><text class="a">A</text></svg><svg y="89" width="100" height="11" viewBox="3.5 -73 70.5 74.2" preserveAspectRatio="none"><text class="g">G</text></svg></svg>
<svg x="565.8" y="873" width="25.2" height="127" viewBox="0 0 100 100" preserveAspectRatio="none"><svg y="0" width="100" height="100" viewBox="3.5 -73 70.5 74.2" preserveAspectRatio="none"><text class="g">G</text></svg></svg>
<svg x="591" y="873" width="25.2" height="127" viewBox="0 0 100 100" preserveAspectRatio="none"><svg y="0" width="100" height="100" viewBox="1.5 -71.6 58 71.6" preserveAspectRatio="none"><text class="t">T</text></svg></svg>
<svg x="616.2" y="873" width="25.2" height="127" viewBox="0 0 100 100" preserveAspectRatio="none"><svg y="0" width="100" height="100" viewBox="3.5 -73 70.5 74.2" preserveAspectRatio="none"><text class="g">G</text></svg></svg>

<!-- ROW 4 L3 CACAGTG -->
<svg x="933" y="873" width="25.3" height="127" viewBox="0 0 100 100" preserveAspectRatio="none"><svg y="0" width="100" height="100" viewBox="3 -73 66 74.2" preserveAspectRatio="none"><text class="c">C</text></svg></svg>
<svg x="958.3" y="873" width="25.3" height="127" viewBox="0 0 100 100" preserveAspectRatio="none"><svg y="0" width="100" height="97" viewBox="0 -71.6 72.2 71.6" preserveAspectRatio="none"><text class="a">A</text></svg></svg>
<svg x="983.6" y="873" width="25.3" height="127" viewBox="0 0 100 100" preserveAspectRatio="none"><svg y="0" width="100" height="100" viewBox="3 -73 66 74.2" preserveAspectRatio="none"><text class="c">C</text></svg></svg>
<svg x="1008.9" y="873" width="25.3" height="127" viewBox="0 0 100 100" preserveAspectRatio="none"><svg y="0" width="100" height="79" viewBox="0 -71.6 72.2 71.6" preserveAspectRatio="none"><text class="a">A</text></svg><svg y="80" width="100" height="20" viewBox="1.5 -71.6 58 71.6" preserveAspectRatio="none"><text class="t">T</text></svg></svg>
<svg x="1034.2" y="873" width="25.3" height="127" viewBox="0 0 100 100" preserveAspectRatio="none"><svg y="0" width="100" height="97" viewBox="3.5 -73 70.5 74.2" preserveAspectRatio="none"><text class="g">G</text></svg></svg>
<svg x="1059.5" y="873" width="25.3" height="127" viewBox="0 0 100 100" preserveAspectRatio="none"><svg y="0" width="100" height="96" viewBox="1.5 -71.6 58 71.6" preserveAspectRatio="none"><text class="t">T</text></svg></svg>
<svg x="1084.8" y="873" width="25.3" height="127" viewBox="0 0 100 100" preserveAspectRatio="none"><svg y="0" width="100" height="100" viewBox="3.5 -73 70.5 74.2" preserveAspectRatio="none"><text class="g">G</text></svg></svg>

<!-- ROW 4 L4 TCAAAAACC -->
<svg x="1190" y="873" width="25.3" height="127" viewBox="0 0 100 100" preserveAspectRatio="none"><svg y="0" width="100" height="50" viewBox="1.5 -71.6 58 71.6" preserveAspectRatio="none"><text class="t">T</text></svg><svg y="51" width="100" height="29" viewBox="3.5 -73 70.5 74.2" preserveAspectRatio="none"><text class="g">G</text></svg><svg y="81" width="100" height="9" viewBox="0 -71.6 72.2 71.6" preserveAspectRatio="none"><text class="a">A</text></svg><svg y="90" width="100" height="10" viewBox="3 -73 66 74.2" preserveAspectRatio="none"><text class="c">C</text></svg></svg>
<svg x="1215.3" y="873" width="25.3" height="127" viewBox="0 0 100 100" preserveAspectRatio="none"><svg y="0" width="100" height="100" viewBox="3 -73 66 74.2" preserveAspectRatio="none"><text class="c">C</text></svg></svg>
<svg x="1240.6" y="873" width="25.3" height="127" viewBox="0 0 100 100" preserveAspectRatio="none"><svg y="0" width="100" height="55" viewBox="0 -71.6 72.2 71.6" preserveAspectRatio="none"><text class="a">A</text></svg><svg y="56" width="100" height="40" viewBox="3 -73 66 74.2" preserveAspectRatio="none"><text class="c">C</text></svg></svg>
<svg x="1265.9" y="873" width="25.3" height="127" viewBox="0 0 100 100" preserveAspectRatio="none"><svg y="0" width="100" height="45" viewBox="0 -71.6 72.2 71.6" preserveAspectRatio="none"><text class="a">A</text></svg><svg y="46" width="100" height="25" viewBox="3.5 -73 70.5 74.2" preserveAspectRatio="none"><text class="g">G</text></svg><svg y="72" width="100" height="28" viewBox="3 -73 66 74.2" preserveAspectRatio="none"><text class="c">C</text></svg></svg>
<svg x="1291.2" y="873" width="25.3" height="127" viewBox="0 0 100 100" preserveAspectRatio="none"><svg y="0" width="100" height="80" viewBox="0 -71.6 72.2 71.6" preserveAspectRatio="none"><text class="a">A</text></svg><svg y="81" width="100" height="18" viewBox="3 -73 66 74.2" preserveAspectRatio="none"><text class="c">C</text></svg></svg>
<svg x="1316.5" y="873" width="25.3" height="127" viewBox="0 0 100 100" preserveAspectRatio="none"><svg y="0" width="100" height="97" viewBox="0 -71.6 72.2 71.6" preserveAspectRatio="none"><text class="a">A</text></svg></svg>
<svg x="1341.8" y="873" width="25.3" height="127" viewBox="0 0 100 100" preserveAspectRatio="none"><svg y="0" width="100" height="97" viewBox="0 -71.6 72.2 71.6" preserveAspectRatio="none"><text class="a">A</text></svg></svg>
<svg x="1367.1" y="873" width="25.3" height="127" viewBox="0 0 100 100" preserveAspectRatio="none"><svg y="0" width="100" height="80" viewBox="3 -73 66 74.2" preserveAspectRatio="none"><text class="c">C</text></svg><svg y="81" width="100" height="17" viewBox="3.5 -73 70.5 74.2" preserveAspectRatio="none"><text class="g">G</text></svg></svg>
<svg x="1392.4" y="873" width="25.3" height="127" viewBox="0 0 100 100" preserveAspectRatio="none"><svg y="0" width="100" height="71" viewBox="3 -73 66 74.2" preserveAspectRatio="none"><text class="c">C</text></svg><svg y="72" width="100" height="28" viewBox="1.5 -71.6 58 71.6" preserveAspectRatio="none"><text class="t">T</text></svg></svg>
</svg>
</body></html>
